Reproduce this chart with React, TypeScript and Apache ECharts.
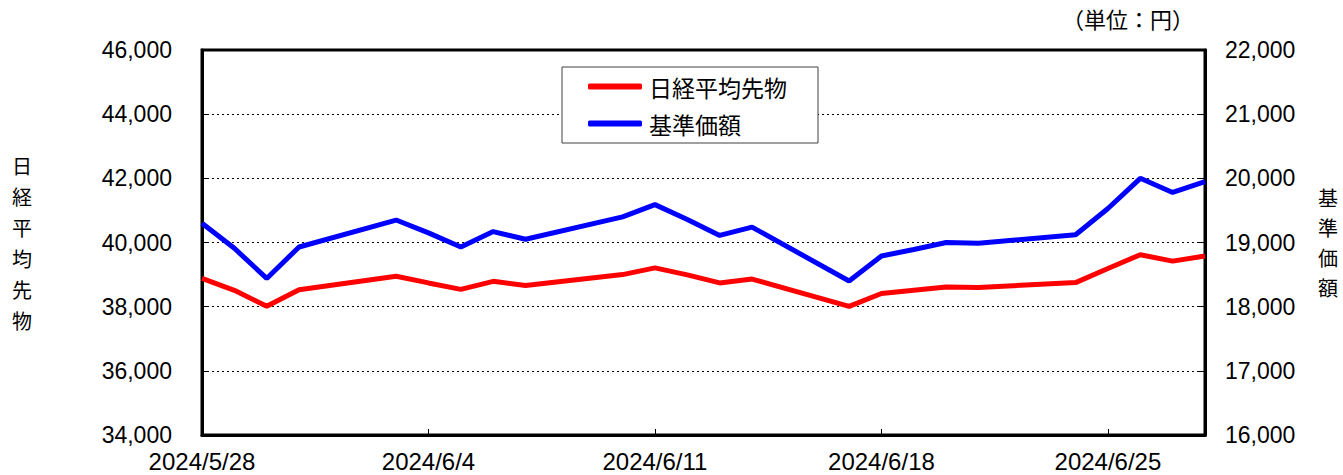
import React, { useEffect, useRef } from "react";
import * as echarts from "echarts";

const dates = [
  "2024-05-28", "2024-05-29", "2024-05-30", "2024-05-31",
  "2024-06-03", "2024-06-04", "2024-06-05", "2024-06-06", "2024-06-07",
  "2024-06-10", "2024-06-11", "2024-06-12", "2024-06-13", "2024-06-14",
  "2024-06-17", "2024-06-18", "2024-06-19", "2024-06-20", "2024-06-21",
  "2024-06-24", "2024-06-25", "2024-06-26", "2024-06-27", "2024-06-28",
];
const nikkeiFutures = [
  38880, 38510, 38010, 38530,
  38950, 38740, 38540, 38790, 38660,
  39000, 39210, 38990, 38740, 38860,
  38010, 38410, 38510, 38610, 38600,
  38750, 39190, 39620, 39420, 39580,
];
const navValues = [
  19300, 18910, 18440, 18930,
  19350, 19150, 18930, 19170, 19050,
  19400, 19590, 19360, 19110, 19240,
  18400, 18790, 18890, 19000, 18990,
  19120, 19530, 20000, 19780, 19950,
];
const seriesNames = ["日経平均先物", "基準価額"];
const startDate = "2024-05-28";
const endDate = "2024-06-28";

const DAY = 86400000;
const toUTC = (s: string) => {
  const [y, m, d] = s.split("-").map(Number);
  return Date.UTC(y, m - 1, d);
};
const dayIndex = (s: string) => Math.round((toUTC(s) - toUTC(startDate)) / DAY);
const fmtDate = (idx: number) => {
  const d = new Date(toUTC(startDate) + idx * DAY);
  return `${d.getUTCFullYear()}/${d.getUTCMonth() + 1}/${d.getUTCDate()}`;
};
const fmtNum = (v: number) => v.toLocaleString("en-US");

const NUM_FONT = "'Liberation Sans', Arial, sans-serif";
const CJK_FONT = "'Noto Sans CJK JP', sans-serif";

export default function App() {
  const ref = useRef<HTMLDivElement>(null);
  useEffect(() => {
    if (!ref.current) return;
    const chart = echarts.init(ref.current, undefined, { renderer: "svg" });
    const option: any = {
      animation: false,
      backgroundColor: "#ffffff",
      grid: {
        left: 202,
        right: 138,
        top: 50,
        bottom: 40,
        containLabel: false,
        outerBoundsMode: "none",
        show: true,
        borderColor: "#000",
        borderWidth: 3,
        backgroundColor: "transparent",
      },
      legend: {
        show: true,
        data: seriesNames,
        orient: "vertical",
        left: 562,
        top: 67,
        padding: [8, 31, 8, 26],
        itemGap: 14,
        itemWidth: 54,
        itemHeight: 6,
        icon: "roundRect",
        backgroundColor: "#fff",
        borderColor: "#404040",
        borderWidth: 1,
        textStyle: { fontFamily: CJK_FONT, fontSize: 23, color: "#000", padding: [0, 0, 0, 2] },
      },
      graphic: [
        {
          type: "text",
          right: 149,
          top: 7,
          style: { text: "（単位：円）", fontFamily: CJK_FONT, fontSize: 22, fill: "#000" },
        },
      ],
      xAxis: {
        type: "value",
        min: 0,
        max: dayIndex(endDate),
        interval: 7,
        axisLine: { show: true, lineStyle: { color: "#000", width: 3 } },
        axisTick: { show: true, inside: true, length: 6, lineStyle: { color: "#000", width: 1 } },
        splitLine: { show: false },
        axisLabel: {
          formatter: (v: number) => fmtDate(v),
          fontFamily: NUM_FONT,
          fontSize: 24,
          color: "#000",
          margin: 14,
        },
      },
      yAxis: [
        {
          type: "value",
          min: 34000,
          max: 46000,
          interval: 2000,
          name: "日\n経\n平\n均\n先\n物",
          nameLocation: "middle",
          nameRotate: 0,
          nameGap: 170,
          nameTextStyle: { fontFamily: CJK_FONT, fontSize: 20, lineHeight: 31, color: "#000" },
          axisLine: { show: true, lineStyle: { color: "#000", width: 3 } },
          axisTick: { show: true, inside: true, length: 6, lineStyle: { color: "#000", width: 1 } },
          splitLine: { show: true, lineStyle: { color: "#000", width: 1, type: [2, 3] } },
          axisLabel: {
            formatter: (v: number) => fmtNum(v),
            fontFamily: NUM_FONT,
            fontSize: 23,
            color: "#000",
            margin: 30,
          },
        },
        {
          type: "value",
          min: 16000,
          max: 22000,
          interval: 1000,
          position: "right",
          name: "基\n準\n価\n額",
          nameLocation: "middle",
          nameRotate: 0,
          nameGap: 113,
          nameTextStyle: { fontFamily: CJK_FONT, fontSize: 20, lineHeight: 30, color: "#000" },
          axisLine: { show: true, lineStyle: { color: "#000", width: 3 } },
          axisTick: { show: true, inside: true, length: 6, lineStyle: { color: "#000", width: 1 } },
          splitLine: { show: false },
          axisLabel: {
            formatter: (v: number) => fmtNum(v),
            fontFamily: NUM_FONT,
            fontSize: 23,
            color: "#000",
            margin: 20,
          },
        },
      ],
      series: [
        {
          name: seriesNames[0],
          type: "line",
          yAxisIndex: 0,
          data: dates.map((d, i) => [dayIndex(d), nikkeiFutures[i]]),
          showSymbol: false,
          symbol: "none",
          lineStyle: { color: "#ff0000", width: 5 },
          itemStyle: { color: "#ff0000" },
          z: 3,
        },
        {
          name: seriesNames[1],
          type: "line",
          yAxisIndex: 1,
          data: dates.map((d, i) => [dayIndex(d), navValues[i]]),
          showSymbol: false,
          symbol: "none",
          lineStyle: { color: "#0000ff", width: 5 },
          itemStyle: { color: "#0000ff" },
          z: 3,
        },
      ],
    };
    chart.setOption(option);
    return () => chart.dispose();
  }, []);
  return (
    <div
      ref={ref}
      style={{ position: "fixed", left: 0, top: 0, width: 1343, height: 475 }}
    />
  );
}
